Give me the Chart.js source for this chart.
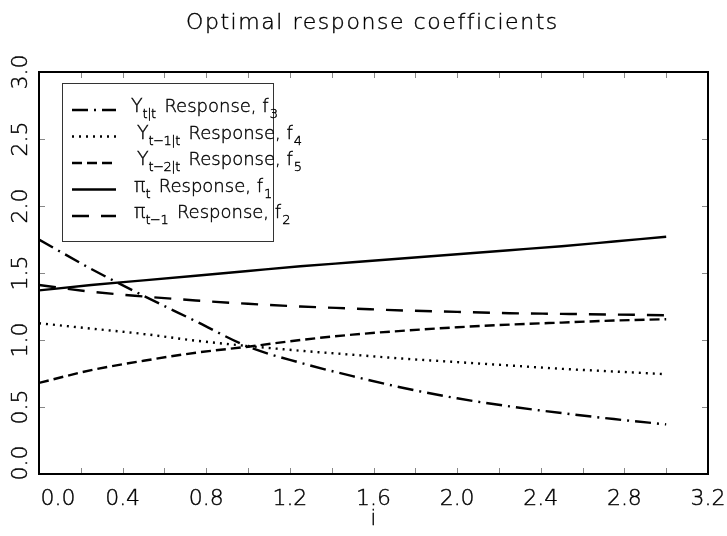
<!DOCTYPE html>
<html>
<head>
<meta charset="utf-8">
<script src="https://cdn.jsdelivr.net/npm/chart.js@4.4.0/dist/chart.umd.min.js"></script>
<style>
html,body{margin:0;padding:0;background:#fff;}
#wrap{width:727px;height:536px;}
</style>
</head>
<body>
<div id="wrap"><canvas id="myChart" width="727" height="536"></canvas></div>
<script>
// i values where each response was evaluated
var iVals = [0, 0.25, 0.5, 0.75, 1.0, 1.25, 1.5, 1.75, 2.0, 2.25, 2.5, 2.75, 3.0];

// response coefficients
var f3 = [1.75, 1.53, 1.33, 1.14, 0.95, 0.83, 0.73, 0.64, 0.565, 0.505, 0.455, 0.41, 0.37];
var f4 = [1.125, 1.085, 1.045, 0.995, 0.955, 0.92, 0.89, 0.86, 0.835, 0.81, 0.785, 0.765, 0.745];
var f5 = [0.68, 0.775, 0.845, 0.905, 0.95, 1.00, 1.04, 1.07, 1.095, 1.115, 1.13, 1.145, 1.155];
var f1 = [1.37, 1.41, 1.445, 1.48, 1.515, 1.55, 1.58, 1.61, 1.64, 1.67, 1.70, 1.735, 1.77];
var f2 = [1.41, 1.36, 1.325, 1.295, 1.27, 1.25, 1.235, 1.22, 1.21, 1.20, 1.195, 1.19, 1.185];

// axis ticks
var xTickLabels = ["0.0", "0.4", "0.8", "1.2", "1.6", "2.0", "2.4", "2.8", "3.2"];
var yTickLabels = ["0.0", "0.5", "1.0", "1.5", "2.0", "2.5", "3.0"];

// legend text: symbol, subscript, middle, subscript
var legSym = ["Y", "Y", "Y", "\u03c0", "\u03c0"];
var legSub = ["t|t", "t\u22121|t", "t\u22122|t", "t", "t\u22121"];
var legNum = ["3", "4", "5", "1", "2"];
var legX = [131, 137, 137, 134, 134];

var dashes = [[16, 6, 2, 6], [2, 5], [10, 5], [], [17, 12]];
var series = [f3, f4, f5, f1, f2];

var FONT = "'DejaVu Sans', 'Liberation Sans', sans-serif";
var INK = "#000";

function pts(arr) {
    var out = [];
    for (var k = 0; k < arr.length; k++) out.push({x: iVals[k], y: arr[k]});
    return out;
}

// thin font looks washed out, so give it a hairline outline
function txt(ctx, s, x, y) {
    ctx.fillText(s, x, y);
    ctx.strokeText(s, x, y);
}

var datasets = [];
for (var s = 0; s < series.length; s++) {
    datasets.push({
        label: legSym[s] + legSub[s] + " Response, f" + legNum[s],
        data: pts(series[s]),
        borderColor: "#000",
        borderWidth: 2.4,
        borderDash: dashes[s],
        pointRadius: 0,
        cubicInterpolationMode: "monotone",
        fill: false
    });
}

// frame, ticks, labels, legend and titles are drawn on top of the line plot
var decorations = {
    id: "decorations",
    afterDraw: function(chart) {
        var ctx = chart.ctx;
        var a = chart.chartArea;
        var xs = chart.scales.x, ys = chart.scales.y;
        ctx.save();

        // minor tick marks inside the frame
        ctx.strokeStyle = "#888";
        ctx.lineWidth = 1;
        ctx.beginPath();
        for (var t = 1; t < 16; t++) {
            var px = Math.round(xs.getPixelForValue(t * 0.2)) + 0.5;
            ctx.moveTo(px, a.bottom); ctx.lineTo(px, a.bottom - 6);
            ctx.moveTo(px, a.top); ctx.lineTo(px, a.top + 6);
        }
        for (var v = 1; v < 6; v++) {
            var py = Math.round(ys.getPixelForValue(v * 0.5)) + 0.5;
            ctx.moveTo(a.left, py); ctx.lineTo(a.left + 6, py);
            ctx.moveTo(a.right, py); ctx.lineTo(a.right - 6, py);
        }
        ctx.stroke();

        // frame
        ctx.strokeStyle = "#000";
        ctx.lineWidth = 2;
        ctx.strokeRect(a.left, a.top, a.right - a.left, a.bottom - a.top);

        ctx.fillStyle = INK;
        ctx.strokeStyle = INK;
        ctx.lineWidth = 0.4;

        // x tick labels
        ctx.font = "200 22px " + FONT;
        ctx.textAlign = "center";
        ctx.textBaseline = "middle";
        for (var k = 0; k < xTickLabels.length; k++) {
            var lx = xs.getPixelForValue(parseFloat(xTickLabels[k]));
            if (k === 0) lx += 19;
            txt(ctx, xTickLabels[k], lx, 499);
        }

        // y tick labels, rotated
        for (var m = 0; m < yTickLabels.length; m++) {
            var ly = ys.getPixelForValue(parseFloat(yTickLabels[m]));
            if (m === 0) ly -= 11;
            ctx.save();
            ctx.translate(21, ly);
            ctx.rotate(-Math.PI / 2);
            txt(ctx, yTickLabels[m], 0, 0);
            ctx.restore();
        }

        // x axis title
        ctx.font = "200 21px " + FONT;
        txt(ctx, "i", (a.left + a.right) / 2, 520);

        // chart title, spread out
        var title = "Optimal response coefficients";
        ctx.font = "200 22px " + FONT;
        var w0 = ctx.measureText(title).width;
        ctx.letterSpacing = Math.max(0, (371 - w0) / (title.length - 1)) + "px";
        ctx.textAlign = "left";
        txt(ctx, title, 186, 23);
        ctx.letterSpacing = "0px";

        // legend box
        ctx.strokeStyle = "#333";
        ctx.lineWidth = 1;
        ctx.strokeRect(62.5, 83.5, 211, 158);
        for (var r = 0; r < datasets.length; r++) {
            var ry = 110 + r * 26.5;
            ctx.strokeStyle = "#000";
            ctx.lineWidth = 2.4;
            ctx.setLineDash(dashes[r]);
            ctx.beginPath();
            ctx.moveTo(72, ry); ctx.lineTo(116, ry);
            ctx.stroke();
            ctx.setLineDash([]);
            ctx.lineWidth = 0.4;

            var tx = legX[r];
            var base = ry + 2;
            ctx.textBaseline = "alphabetic";
            ctx.font = "200 19px " + FONT;
            txt(ctx, legSym[r], tx, base);
            tx += ctx.measureText(legSym[r]).width;
            ctx.font = "200 13px " + FONT;
            ctx.letterSpacing = "-0.5px";
            txt(ctx, legSub[r], tx, base + 6);
            tx += ctx.measureText(legSub[r]).width + 3;
            ctx.letterSpacing = "0px";
            ctx.font = "200 18px " + FONT;
            var mid = " Response, f";
            txt(ctx, mid, tx, base);
            tx += ctx.measureText(mid).width + 1;
            ctx.font = "200 13px " + FONT;
            txt(ctx, legNum[r], tx, base + 6);
        }
        ctx.restore();
    }
};

const c = document.getElementById("myChart").getContext("2d");
var myChart = new Chart(c, {
    type: "line",
    data: {datasets: datasets},
    options: {
        responsive: false,
        animation: false,
        layout: {padding: {left: 39, top: 72, right: 19, bottom: 62}},
        scales: {
            x: {type: "linear", min: 0, max: 3.2, display: false},
            y: {type: "linear", min: 0, max: 3, display: false}
        },
        plugins: {
            legend: {display: false},
            title: {display: false},
            tooltip: {enabled: false}
        }
    },
    plugins: [decorations]
});
</script>
</body>
</html>
